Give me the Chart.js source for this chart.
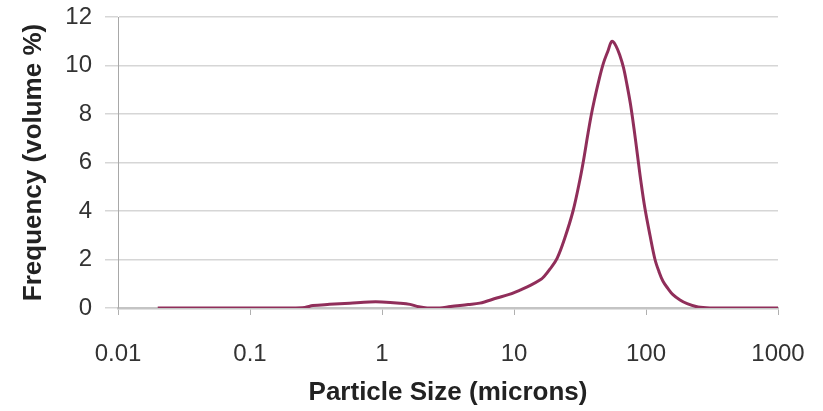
<!DOCTYPE html>
<html>
<head>
<meta charset="utf-8">
<script src="https://cdn.jsdelivr.net/npm/chart.js@4/dist/chart.umd.min.js"></script>
<style>
  html, body { margin: 0; padding: 0; background: #ffffff; }
  #wrap { width: 823px; height: 411px; }
</style>
</head>
<body>
<div id="wrap"><canvas id="c" width="823" height="411"></canvas></div>
<script>
// Particle size (microns)
const sizes = [0.02, 0.05, 0.1, 0.2, 0.26, 0.3, 0.4, 0.57, 0.8, 1.0, 1.37, 1.63, 1.9, 2.2, 2.75,
  3.3, 4.5, 5.5, 7.4, 9.2, 11.1, 13.3, 15.7, 16.9, 18.7, 21.2, 24.3, 28, 31.6, 33.9, 36.1, 38.3,
  40.7, 44, 47.6, 51.5, 55.2, 59.3, 63.5, 67.6, 71.8, 76.3, 81.1, 86.2, 91.6, 98.2, 107.2, 117,
  125.4, 134.5, 146.8, 160, 181, 205, 248, 305, 500, 1000];
// Frequency (volume %)
const frequency = [0, 0, 0, 0, 0.02, 0.1, 0.15, 0.2, 0.25, 0.25, 0.2, 0.15, 0.05, 0, 0,
  0.06, 0.14, 0.2, 0.41, 0.56, 0.74, 0.93, 1.15, 1.3, 1.6, 2.05, 2.9, 4.0, 5.3, 6.2, 7.1, 7.9,
  8.6, 9.4, 10.1, 10.6, 11.0, 10.8, 10.4, 9.9, 9.2, 8.4, 7.4, 6.3, 5.2, 4.1, 3.0, 2.0,
  1.5, 1.1, 0.8, 0.55, 0.33, 0.18, 0.04, 0, 0, 0];
const xTickValues = [0.01, 0.1, 1, 10, 100, 1000];
const xTickLabels = ['0.01', '0.1', '1', '10', '100', '1000'];
const yTickValues = [0, 2, 4, 6, 8, 10, 12];

const points = sizes.map((s, i) => ({ x: s, y: frequency[i] }));

new Chart(document.getElementById('c'), {
  type: 'line',
  data: {
    datasets: [{
      data: points,
      borderColor: '#902e5a',
      borderWidth: 3,
      pointRadius: 0,
      fill: false,
      tension: 0.35
    }]
  },
  options: {
    responsive: false,
    animation: false,
    layout: { padding: { left: 0, right: 45, top: 17, bottom: 0 } },
    plugins: { legend: { display: false }, tooltip: { enabled: false } },
    scales: {
      x: {
        type: 'logarithmic',
        min: 0.01,
        max: 1000,
        afterBuildTicks: (scale) => { scale.ticks = xTickValues.map(v => ({ value: v })); },
        afterFit: (scale) => { scale.height = 103; scale.paddingLeft = 0; scale.paddingRight = 0; },
        ticks: {
          autoSkip: false,
          maxRotation: 0,
          color: '#333333',
          font: { family: 'Liberation Sans, Arial, sans-serif', size: 24 },
          padding: 25,
          callback: (v) => { const i = xTickValues.indexOf(v); return i >= 0 ? xTickLabels[i] : ''; }
        },
        grid: { drawOnChartArea: false, color: '#b0b0b0', tickLength: 7 },
        border: { color: '#c4c4c4', width: 2.5 },
        title: {
          display: true,
          text: 'Particle Size (microns)',
          color: '#222222',
          font: { family: 'Liberation Sans, Arial, sans-serif', size: 26, weight: 'bold' },
          padding: { top: 0, bottom: 3 }
        }
      },
      y: {
        min: 0,
        max: 12,
        afterBuildTicks: (scale) => { scale.ticks = yTickValues.map(v => ({ value: v })); },
        afterFit: (scale) => { scale.width = 118; scale.paddingTop = 0; scale.paddingBottom = 0; },
        ticks: {
          color: '#333333',
          font: { family: 'Liberation Sans, Arial, sans-serif', size: 24 },
          padding: 13
        },
        grid: { color: '#d6d6d6', lineWidth: 1.5, tickLength: 13 },
        border: { color: '#a8a8a8', width: 1 },
        title: {
          display: true,
          text: 'Frequency (volume %)',
          color: '#222222',
          font: { family: 'Liberation Sans, Arial, sans-serif', size: 26, weight: 'bold' },
          padding: { top: 18, bottom: 0 }
        }
      }
    }
  }
});
</script>
</body>
</html>
